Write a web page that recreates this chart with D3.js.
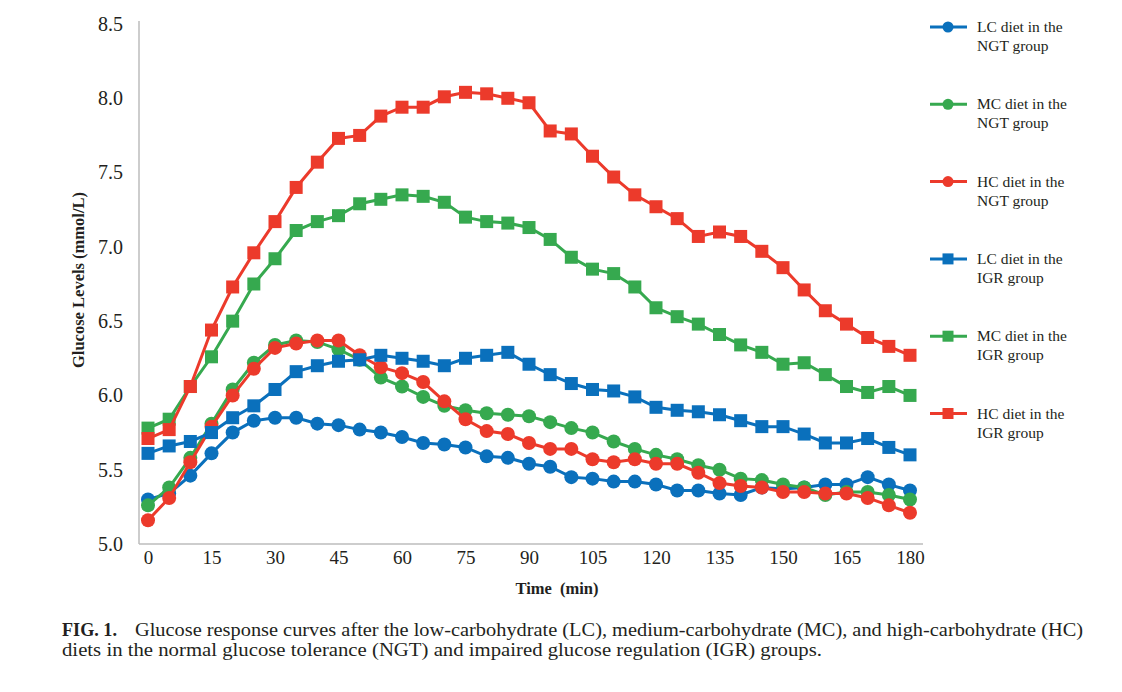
<!DOCTYPE html>
<html>
<head>
<meta charset="utf-8">
<script src="https://cdn.jsdelivr.net/npm/d3@7"></script>
<style>
  html, body { margin: 0; padding: 0; background: #fff; }
  svg { display: block; }
  text { font-family: "Liberation Serif", "Times New Roman", serif; fill: #231f20; }
</style>
</head>
<body>
<svg id="chart" width="1122" height="692"></svg>
<script>
// ---- data ----
const times = [0,5,10,15,20,25,30,35,40,45,50,55,60,65,70,75,80,85,90,95,100,105,110,115,120,125,130,135,140,145,150,155,160,165,170,175,180];
const xTicks = [0,15,30,45,60,75,90,105,120,135,150,165,180];
const yTicks = [5.0,5.5,6.0,6.5,7.0,7.5,8.0,8.5];

const lcNGT = [5.30,5.34,5.46,5.61,5.75,5.83,5.85,5.85,5.81,5.80,5.77,5.75,5.72,5.68,5.67,5.65,5.59,5.58,5.54,5.52,5.45,5.44,5.42,5.42,5.40,5.36,5.36,5.34,5.33,5.38,5.37,5.38,5.40,5.40,5.45,5.40,5.36];
const mcNGT = [5.26,5.38,5.58,5.81,6.04,6.22,6.34,6.37,6.36,6.31,6.24,6.12,6.06,5.99,5.93,5.90,5.88,5.87,5.86,5.82,5.78,5.75,5.69,5.64,5.60,5.57,5.53,5.50,5.44,5.43,5.40,5.38,5.33,5.35,5.35,5.33,5.30];
const hcNGT = [5.16,5.31,5.55,5.79,6.00,6.18,6.32,6.35,6.37,6.37,6.27,6.19,6.15,6.09,5.96,5.84,5.76,5.74,5.68,5.64,5.64,5.57,5.55,5.57,5.54,5.54,5.48,5.41,5.39,5.38,5.35,5.35,5.34,5.34,5.31,5.26,5.21];
const lcIGR = [5.61,5.66,5.69,5.75,5.85,5.93,6.04,6.16,6.20,6.23,6.24,6.27,6.25,6.23,6.20,6.25,6.27,6.29,6.21,6.14,6.08,6.04,6.03,5.99,5.92,5.90,5.89,5.87,5.83,5.79,5.79,5.74,5.68,5.68,5.71,5.65,5.60];
const mcIGR = [5.78,5.84,6.06,6.26,6.50,6.75,6.92,7.11,7.17,7.21,7.29,7.32,7.35,7.34,7.30,7.20,7.17,7.16,7.13,7.05,6.93,6.85,6.82,6.73,6.59,6.53,6.48,6.41,6.34,6.29,6.21,6.22,6.14,6.06,6.02,6.06,6.00];
const hcIGR = [5.71,5.77,6.06,6.44,6.73,6.96,7.17,7.40,7.57,7.73,7.75,7.88,7.94,7.94,8.01,8.04,8.03,8.00,7.97,7.78,7.76,7.61,7.47,7.35,7.27,7.19,7.07,7.10,7.07,6.97,6.86,6.71,6.57,6.48,6.39,6.33,6.27];

const seriesNames = [
  ["LC diet in the", "NGT group"],
  ["MC diet in the", "NGT group"],
  ["HC diet in the", "NGT group"],
  ["LC diet in the", "IGR group"],
  ["MC diet in the", "IGR group"],
  ["HC diet in the", "IGR group"]
];
const seriesValues = [lcNGT, mcNGT, hcNGT, lcIGR, mcIGR, hcIGR];
const seriesShapes = ["circle","circle","circle","square","square","square"];
const seriesColors = ["#0a70bc","#36a94f","#ec3a2b","#0a70bc","#36a94f","#ec3a2b"];

const yTitle = "Glucose Levels (mmol/L)";
const xTitle = "Time  (min)";
const captionBold = "FIG. 1.";
const captionLine1 = "Glucose response curves after the low-carbohydrate (LC), medium-carbohydrate (MC), and high-carbohydrate (HC)";
const captionLine2 = "diets in the normal glucose tolerance (NGT) and impaired glucose regulation (IGR) groups.";

// ---- drawing ----
const svg = d3.select("#chart");
const x = d3.scaleLinear().domain([0,180]).range([148,910]);
const y = d3.scaleLinear().domain([5.0,8.5]).range([544,24]);
const axisColor = "#bdbdbd";

// axis lines
svg.append("line").attr("x1",139).attr("x2",139).attr("y1",21).attr("y2",544)
  .attr("stroke",axisColor).attr("stroke-width",1.5);
svg.append("line").attr("x1",139).attr("x2",923).attr("y1",544).attr("y2",544)
  .attr("stroke",axisColor).attr("stroke-width",1.5);

// y axis labels
const yAxis = d3.axisLeft(y).tickValues(yTicks).tickFormat(d3.format(".1f")).tickSize(0).tickPadding(0);
const gy = svg.append("g").attr("transform","translate(123,0)").call(yAxis);
gy.select(".domain").remove();
gy.selectAll("text").attr("font-size",20).attr("font-family","Liberation Serif").attr("fill","#231f20");

// x axis labels
const xAxis = d3.axisBottom(x).tickValues(xTicks).tickFormat(d3.format("d")).tickSize(0).tickPadding(0);
const gx = svg.append("g").attr("transform","translate(0,550)").call(xAxis);
gx.select(".domain").remove();
gx.selectAll("text").attr("font-size",19).attr("font-family","Liberation Serif").attr("fill","#231f20");

// axis titles
svg.append("text").attr("transform","translate(84,280) rotate(-90)")
  .attr("text-anchor","middle").attr("font-size",16.5).attr("font-weight","bold").text(yTitle);
svg.append("text").attr("x",557).attr("y",594)
  .attr("text-anchor","middle").attr("font-size",16.5).attr("font-weight","bold")
  .attr("xml:space","preserve").style("white-space","pre").text(xTitle);

// series
const line = d3.line().x((d,i)=>x(times[i])).y(d=>y(d));
seriesValues.forEach((vals,si)=>{
  const g = svg.append("g");
  g.append("path").datum(vals).attr("d",line).attr("fill","none")
    .attr("stroke",seriesColors[si]).attr("stroke-width",3);
  if (seriesShapes[si]==="circle") {
    g.selectAll("circle").data(vals).join("circle")
      .attr("cx",(d,i)=>x(times[i])).attr("cy",d=>y(d)).attr("r",7)
      .attr("fill",seriesColors[si]);
  } else {
    const s = 13;
    g.selectAll("rect").data(vals).join("rect")
      .attr("x",(d,i)=>x(times[i])-s/2).attr("y",d=>y(d)-s/2)
      .attr("width",s).attr("height",s).attr("fill",seriesColors[si]);
  }
});

// legend
const legend = svg.append("g");
seriesNames.forEach((nm,i)=>{
  const ly = 27 + i*77.3;
  const g = legend.append("g").attr("transform",`translate(0,${ly})`);
  g.append("line").attr("x1",930).attr("x2",967).attr("y1",0).attr("y2",0)
    .attr("stroke",seriesColors[i]).attr("stroke-width",3);
  if (seriesShapes[i]==="circle") {
    g.append("circle").attr("cx",948).attr("cy",0).attr("r",5.5).attr("fill",seriesColors[i]);
  } else {
    g.append("rect").attr("x",942.5).attr("y",-5.5).attr("width",11).attr("height",11).attr("fill",seriesColors[i]);
  }
  g.append("text").attr("x",977).attr("y",5).attr("font-size",15.5).text(nm[0]);
  g.append("text").attr("x",977).attr("y",24).attr("font-size",15.5).text(nm[1]);
});

// caption
svg.append("text").attr("x",62).attr("y",636).attr("font-size",19).attr("font-weight","bold")
  .attr("textLength",55).attr("lengthAdjust","spacingAndGlyphs").text(captionBold);
svg.append("text").attr("x",135).attr("y",636).attr("font-size",19)
  .attr("textLength",948).attr("lengthAdjust","spacingAndGlyphs").text(captionLine1);
svg.append("text").attr("x",62).attr("y",656).attr("font-size",19)
  .attr("textLength",760).attr("lengthAdjust","spacingAndGlyphs").text(captionLine2);
</script>
</body>
</html>
